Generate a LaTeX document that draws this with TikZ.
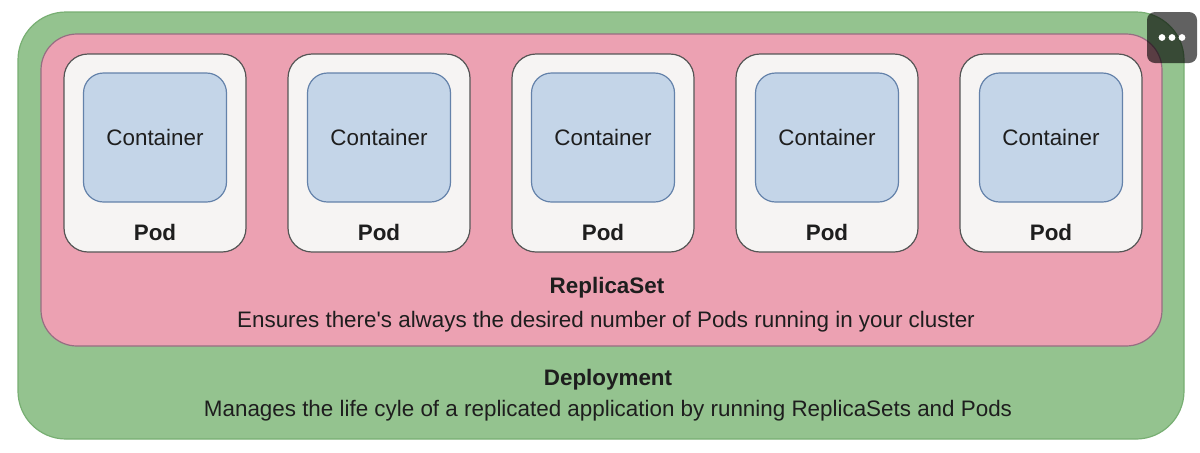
\documentclass[tikz,border=0pt]{standalone}
\usepackage{fontspec}
\setmainfont{Liberation Sans}
\usetikzlibrary{positioning}
\definecolor{deplgreen}{RGB}{148,195,143}
\definecolor{deplborder}{RGB}{120,175,115}
\definecolor{rspink}{RGB}{236,161,178}
\definecolor{rsborder}{RGB}{150,110,130}
\definecolor{podwhite}{RGB}{246,244,243}
\definecolor{podborder}{RGB}{85,85,85}
\definecolor{contblue}{RGB}{196,213,232}
\definecolor{contborder}{RGB}{100,130,170}
\definecolor{txtdark}{RGB}{30,30,30}

\begin{document}
\begin{tikzpicture}[
  x=0.5pt, y=-0.5pt,
  deploy/.style={draw=deplborder, fill=deplgreen, line width=0.6pt, rounded corners=24pt, minimum width=583pt, minimum height=213.5pt, inner sep=0pt},
  rset/.style={draw=rsborder, fill=rspink, line width=0.6pt, rounded corners=18pt, minimum width=560.5pt, minimum height=156pt, inner sep=0pt},
  pod/.style={draw=podborder, fill=podwhite, line width=0.6pt, rounded corners=12pt, minimum width=91pt, minimum height=99pt, inner sep=0pt},
  cont/.style={draw=contborder, fill=contblue, line width=0.6pt, rounded corners=10pt, minimum width=71.5pt, minimum height=64.5pt, inner sep=0pt, font=\fontsize{11.2}{13}\selectfont, text=txtdark},
  lbl/.style={font=\fontsize{11.2}{13}\selectfont\bfseries, text=txtdark, inner sep=0pt},
  desc/.style={font=\fontsize{11.2}{13}\selectfont, text=txtdark, inner sep=0pt}
]
  \useasboundingbox (0,0) rectangle (1200,452);
  \fill[white] (0,0) rectangle (1200,452);

  % outer boxes
  \node[deploy] (deployment) at (601,225.5) {};
  \node[rset] (replicaset) at (601.5,190) {};

  % pods with their containers
  \foreach \i/\px in {1/155, 2/379, 3/603, 4/827, 5/1051} {
    \node[pod] (pod\i) at (\px,153) {};
    \node[cont] (cont\i) at (\px,137.5) {Container};
    \node[lbl] (podlbl\i) at (\px,232) {Pod};
  }

  % labels
  \node[lbl] (rslbl) at (607,288) {ReplicaSet};
  \node[desc] (rsdesc) at (606,322) {Ensures there\textquotesingle s always the desired number of Pods running in your cluster};
  \node[lbl] (deplbl) at (608,380) {Deployment};
  \node[desc] (depdesc) at (608,411) {Manages the life cyle of a replicated application by running ReplicaSets and Pods};

  % menu button
  \node[fill=black, fill opacity=0.62, rounded corners=4pt, minimum width=25pt, minimum height=25.5pt, inner sep=0pt] (menu) at (1172,37.5) {};
  \foreach \dx in {-10,0,10}
    \fill[white] ([xshift=\dx*0.5pt]menu.center) circle (1.7pt);
\end{tikzpicture}
\end{document}
